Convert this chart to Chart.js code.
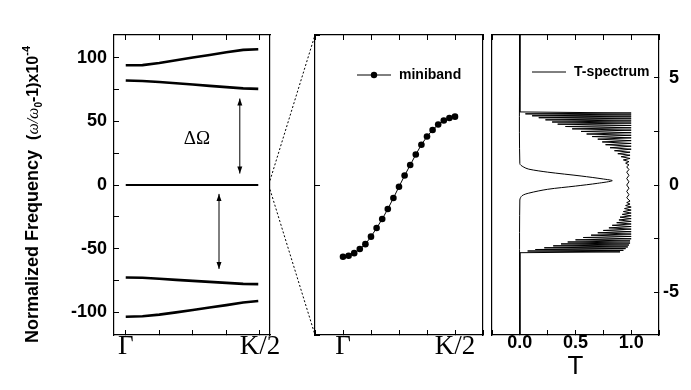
<!DOCTYPE html>
<html>
<head>
<meta charset="utf-8">
<script src="https://cdn.jsdelivr.net/npm/chart.js@4.4.0/dist/chart.umd.min.js"></script>
<style>
  body { margin: 0; background: #fff; }
  #lienzo { position: relative; width: 691px; height: 390px; overflow: hidden; }
  #lienzo canvas { position: absolute; top: 0; }
</style>
</head>
<body>
<div id="lienzo">
  <canvas id="bandas" width="290" height="390" style="left:0"></canvas>
  <canvas id="minibanda" width="210" height="390" style="left:290px"></canvas>
  <canvas id="espectro" width="201" height="390" style="left:490px"></canvas>
  <canvas id="zoom" width="691" height="390" style="left:0;pointer-events:none"></canvas>
</div>
<script>
// Bandas de frecuencia (panel izquierdo), eje k de Γ (0) a K/2 (4)
const kBandas = [0, 0.5, 1, 1.5, 2, 2.5, 3, 3.5, 3.95];
const banda1 = [94.2, 94.3, 96.0, 98.2, 100.3, 102.3, 104.4, 106.3, 106.8];
const banda2 = [82.2, 81.8, 81.0, 80.0, 79.0, 78.0, 77.0, 76.0, 75.6];
const banda0 = [0, 0, 0, 0, 0, 0, 0, 0, 0];
const banda3 = [-72.8, -73.0, -73.8, -74.6, -75.4, -76.2, -77.0, -77.8, -78.0];
const banda4 = [-103.6, -103.3, -102.0, -100.2, -98.3, -96.4, -94.5, -92.4, -91.3];

// Flechas de separación ΔΩ
const flechaK = [3.4, 2.78];
const flechaDesde = [68, -7];
const flechaHasta = [9, -66];

// Minibanda (panel central)
const kMini = [0, 0.2, 0.4, 0.6, 0.8, 1.0, 1.2, 1.4, 1.6, 1.8, 2.0, 2.2, 2.4, 2.6, 2.8, 3.0, 3.2, 3.4, 3.6, 3.8, 4.0];
const miniband = [-3.35, -3.30, -3.18, -2.99, -2.76, -2.41, -2.01, -1.59, -1.12, -0.61, -0.08, 0.44, 0.93, 1.42, 1.88, 2.26, 2.57, 2.82, 3.01, 3.13, 3.19];

// Espectro de transmisión (panel derecho): T frente a frecuencia
const defectoT = [0, 0, 0.03, 0.08, 0.25, 0.55, 0.75, 0.83, 0.7, 0.5, 0.25, 0.08, 0.02, 0, 0];
const defectoF = [7, 1.0, 0.85, 0.74, 0.6, 0.42, 0.28, 0.2, 0.08, -0.05, -0.2, -0.38, -0.5, -0.7, -7];

const supT = [0, 0, 1.0, 0.05, 1.0, 0.11, 1.0, 0.17, 1.0, 0.23, 1.0, 0.29, 1.0, 0.34, 1.0, 0.41, 1.0, 0.47, 1.0, 0.55, 1.0,
  0.60, 1.0, 0.65, 1.0, 0.70, 1.0, 0.74, 1.0, 0.77, 1.0, 0.81, 1.0, 0.85, 0.99, 0.88, 0.99, 0.91, 0.99, 0.93, 0.98, 0.95, 0.98];
const supF = [7, 3.41, 3.36, 3.32, 3.27, 3.23, 3.18, 3.14, 3.09, 3.04, 2.99, 2.94, 2.89, 2.84, 2.78, 2.73, 2.67, 2.62, 2.56, 2.50, 2.44,
  2.38, 2.32, 2.26, 2.20, 2.14, 2.07, 2.01, 1.94, 1.88, 1.81, 1.74, 1.67, 1.60, 1.53, 1.46, 1.39, 1.32, 1.24, 1.17, 1.09, 1.02, 0.94];
const centroT = [0.96, 0.98, 0.96, 0.98, 0.96, 0.98, 0.96, 0.98, 0.96, 0.98, 0.96];
const centroF = [0.85, 0.72, 0.6, 0.45, 0.3, 0.15, 0.0, -0.15, -0.3, -0.45, -0.6];
const infT = [0.99, 0.96, 0.99, 0.95, 1.0, 0.94, 1.0, 0.93, 1.0, 0.92, 1.0, 0.90, 1.0, 0.89, 1.0, 0.87, 1.0, 0.83, 1.0, 0.80, 1.0,
  0.75, 1.0, 0.70, 1.0, 0.64, 1.0, 0.57, 1.0, 0.50, 0.99, 0.43, 0.99, 0.37, 0.98, 0.30, 0.97, 0.22, 0.95, 0.14, 0.93, 0.07, 0.90, 0, 0];
const infF = [-0.75, -0.82, -0.89, -0.96, -1.03, -1.10, -1.17, -1.24, -1.31, -1.37, -1.44, -1.50, -1.57, -1.63, -1.70, -1.76, -1.82, -1.88, -1.94, -2.00, -2.06,
  -2.12, -2.18, -2.23, -2.29, -2.34, -2.40, -2.45, -2.51, -2.56, -2.61, -2.66, -2.71, -2.75, -2.80, -2.84, -2.89, -2.93, -2.97, -3.01, -3.05, -3.08, -3.12, -3.16, -7];

const SANS = '"Liberation Sans", Arial, sans-serif';
const SERIF = '"Liberation Serif", "Times New Roman", serif';
Chart.defaults.color = '#000';
Chart.defaults.font.family = SANS;
Chart.defaults.animation = false;
Chart.defaults.plugins.legend.display = false;
Chart.defaults.plugins.tooltip.enabled = false;

const puntos = (xs, ys) => xs.map((x, i) => ({ x: x, y: ys[i] }));

// ejes con marcas hacia dentro
function eje(pos, extra) {
  const base = {
    position: pos,
    border: { display: true, color: '#000', width: 1.2 },
    grid: { display: true, drawOnChartArea: false, drawTicks: true, tickLength: -5, color: '#000', tickWidth: 1 },
    ticks: { display: false, includeBounds: false, autoSkip: false, maxRotation: 0, minRotation: 0 }
  };
  return Chart.helpers.merge(base, extra || {});
}
const fijo = (w, h) => (s) => { if (w !== null) s.width = w; if (h !== null) s.height = h; };

// Título del eje vertical con subíndice y superíndice
const tituloY = {
  id: 'tituloY',
  afterDraw(chart) {
    const ctx = chart.ctx;
    const partes = [
      { t: 'Normalized Frequency  ', f: 'bold 18px ' + SANS, dy: 0 },
      { t: '(', f: 'bold 16px ' + SANS, dy: 0 },
      { t: 'ω/ω', f: 'italic 16px ' + SERIF, dy: 0 },
      { t: '0', f: 'bold 10px ' + SANS, dy: 4 },
      { t: '-1)x10', f: 'bold 16px ' + SANS, dy: 0 },
      { t: '-4', f: 'bold 11px ' + SANS, dy: -8 }
    ];
    ctx.save();
    ctx.translate(38, 343);
    ctx.rotate(-Math.PI / 2);
    ctx.fillStyle = '#000';
    ctx.textBaseline = 'alphabetic';
    let x = 0;
    partes.forEach(p => {
      ctx.font = p.f;
      ctx.fillText(p.t, x, p.dy);
      x += ctx.measureText(p.t).width;
    });
    ctx.restore();
  }
};

// Flechas dobles y etiqueta ΔΩ
const flechas = {
  id: 'flechas',
  afterDatasetsDraw(chart) {
    const ctx = chart.ctx, sx = chart.scales.x, sy = chart.scales.y;
    ctx.save();
    ctx.strokeStyle = '#000';
    ctx.fillStyle = '#000';
    ctx.lineWidth = 1;
    flechaK.forEach((k, i) => {
      const x = sx.getPixelForValue(k);
      const a = sy.getPixelForValue(flechaDesde[i]);
      const b = sy.getPixelForValue(flechaHasta[i]);
      ctx.beginPath();
      ctx.moveTo(x, a);
      ctx.lineTo(x, b);
      ctx.stroke();
      [[a, 1], [b, -1]].forEach(([y, d]) => {
        ctx.beginPath();
        ctx.moveTo(x, y);
        ctx.lineTo(x - 2.5, y + d * 7);
        ctx.lineTo(x + 2.5, y + d * 7);
        ctx.closePath();
        ctx.fill();
      });
    });
    ctx.font = '19px ' + SERIF;
    ctx.textAlign = 'center';
    ctx.textBaseline = 'middle';
    ctx.fillText('ΔΩ', sx.getPixelForValue(2.12), sy.getPixelForValue(36));
    ctx.restore();
  }
};

// Leyenda dentro del área de trazado
function leyenda(texto, xLinea, conPunto, dy) {
  return {
    id: 'leyenda',
    afterDraw(chart) {
      const ctx = chart.ctx, a = chart.chartArea;
      const x0 = a.left + xLinea, y = a.top + dy;
      ctx.save();
      ctx.strokeStyle = '#000';
      ctx.lineWidth = 1;
      ctx.beginPath();
      ctx.moveTo(x0, y);
      ctx.lineTo(x0 + 34, y);
      ctx.stroke();
      if (conPunto) {
        ctx.beginPath();
        ctx.arc(x0 + 17, y, 3.2, 0, Math.PI * 2);
        ctx.fill();
      }
      ctx.font = 'bold 14px ' + SANS;
      ctx.textBaseline = 'middle';
      ctx.fillText(texto, x0 + 42, y);
      ctx.restore();
    }
  };
}

const serie = (data, ancho) => ({
  data: data, borderColor: '#000', borderWidth: ancho, pointRadius: 0, fill: false, tension: 0
});

const graficoBandas = new Chart(document.getElementById('bandas'), {
  type: 'scatter',
  data: {
    datasets: [banda1, banda2, banda0, banda3, banda4].map((b, i) =>
      Object.assign(serie(puntos(kBandas, b), i === 2 ? 2.2 : 2.6), { showLine: true }))
  },
  options: {
    responsive: false,
    layout: { padding: { left: 0, top: 35, right: 20, bottom: 0 } },
    scales: {
      x: eje('bottom', {
        min: -0.35, max: 4.3,
        ticks: { display: true, stepSize: 1, padding: 1, font: { family: SERIF, size: 27 },
          callback: v => v === 0 ? 'Γ' : (v === 4 ? 'K/2' : '') },
        afterFit: fijo(null, 55)
      }),
      x2: eje('top', { min: -0.35, max: 4.3, ticks: { stepSize: 1 }, afterFit: fijo(null, 0) }),
      y: eje('left', {
        min: -118, max: 118,
        ticks: { display: true, stepSize: 25, padding: 12, font: { size: 18, weight: 'bold' },
          callback: v => v % 50 === 0 ? String(v) : '' },
        afterFit: fijo(114, null)
      }),
      y2: eje('right', { min: -118, max: 118, grid: { display: false }, afterFit: fijo(0, null) })
    }
  },
  plugins: [tituloY, flechas]
});

const graficoMini = new Chart(document.getElementById('minibanda'), {
  type: 'scatter',
  data: {
    datasets: [Object.assign(serie(puntos(kMini, miniband), 1), {
      showLine: true, pointRadius: 3.3, pointBackgroundColor: '#000', pointBorderWidth: 0
    })]
  },
  options: {
    responsive: false,
    layout: { padding: { left: 0, top: 35, right: 17, bottom: 0 } },
    scales: {
      x: eje('bottom', {
        min: -1, max: 5,
        ticks: { display: true, stepSize: 1, padding: 1, font: { family: SERIF, size: 27 },
          callback: v => v === 0 ? 'Γ' : (v === 4 ? 'K/2' : '') },
        afterFit: fijo(null, 55)
      }),
      x2: eje('top', { min: -1, max: 5, ticks: { stepSize: 1 }, afterFit: fijo(null, 0) }),
      y: eje('left', { min: -7, max: 7, ticks: { stepSize: 7 }, afterFit: fijo(25, null) }),
      y2: eje('right', { min: -7, max: 7, grid: { display: false }, afterFit: fijo(0, null) })
    }
  },
  plugins: [leyenda('miniband', 42, true, 40)]
});

const graficoT = new Chart(document.getElementById('espectro'), {
  type: 'scatter',
  data: {
    datasets: [
      Object.assign(serie(puntos(defectoT, defectoF), 1), { showLine: true, tension: 0.3 }),
      Object.assign(serie(puntos(supT.concat(centroT, infT), supF.concat(centroF, infF)), 1), { showLine: true })
    ]
  },
  options: {
    responsive: false,
    layout: { padding: { left: 0, top: 35, right: 12, bottom: 0 } },
    scales: {
      x: eje('bottom', {
        min: -0.25, max: 1.25,
        ticks: { display: true, stepSize: 0.25, padding: 2, font: { size: 18, weight: 'bold' },
          callback: v => (Math.abs(v % 0.5) < 1e-9 && v >= 0 && v <= 1) ? v.toFixed(1) : '' },
        title: { display: true, text: 'T', font: { size: 26 }, padding: { top: 0, bottom: 8 } },
        afterFit: fijo(null, 55)
      }),
      x2: eje('top', { min: -0.25, max: 1.25, ticks: { stepSize: 0.25 }, afterFit: fijo(null, 0) }),
      yL: eje('left', { min: -7, max: 7, grid: { display: false }, afterFit: fijo(2, null) }),
      y: eje('right', {
        min: -7, max: 7,
        ticks: { display: true, stepSize: 2.5, padding: 11, crossAlign: 'far', font: { size: 18, weight: 'bold' },
          callback: v => v % 5 === 0 ? String(v) : '' },
        afterFit: fijo(20, null)
      })
    }
  },
  plugins: [leyenda('T-spectrum', 40, false, 37)]
});

// Líneas punteadas de ampliación entre el panel izquierdo y el central
(function () {
  const ctx = document.getElementById('zoom').getContext('2d');
  const a = graficoBandas.chartArea, b = graficoMini.chartArea;
  const xi = a.right, xf = 290 + b.left;
  ctx.strokeStyle = '#000';
  ctx.lineWidth = 1;
  ctx.setLineDash([2, 2]);
  ctx.beginPath();
  ctx.moveTo(xi, graficoBandas.scales.y.getPixelForValue(3.5));
  ctx.lineTo(xf, b.top);
  ctx.moveTo(xi, graficoBandas.scales.y.getPixelForValue(-3.5));
  ctx.lineTo(xf, b.bottom);
  ctx.stroke();
})();
</script>
</body>
</html>
